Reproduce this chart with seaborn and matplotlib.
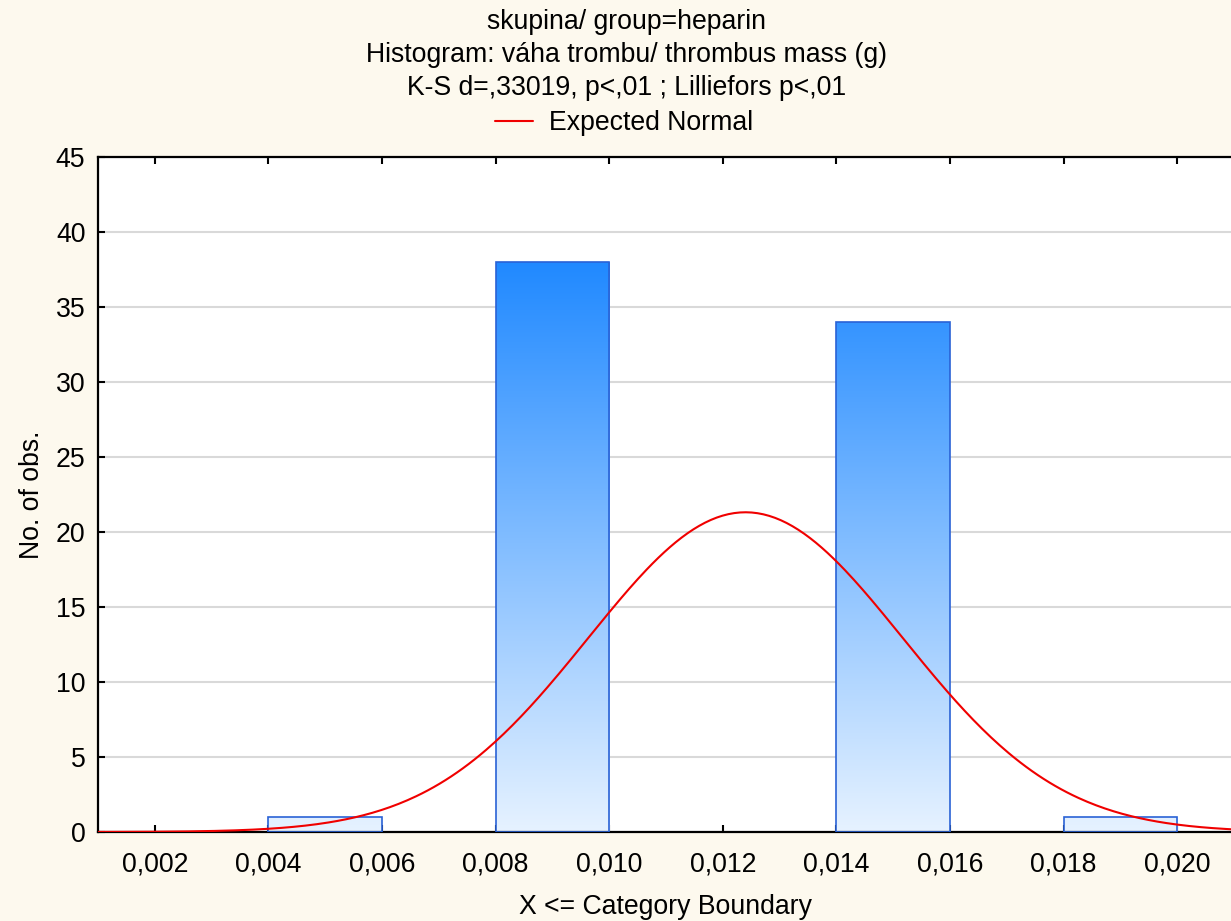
import numpy as np
import pandas as pd
import matplotlib
matplotlib.use("Agg")
import matplotlib.pyplot as plt
from matplotlib.colors import LinearSegmentedColormap
from matplotlib.ticker import FuncFormatter
import seaborn as sns

# ---- data ----
bin_edges = [0.004, 0.006, 0.008, 0.010, 0.012, 0.014, 0.016, 0.018, 0.020]
bin_counts = [1, 0, 38, 0, 0, 34, 0, 1]
normal_mean = 0.0124
normal_sd = 0.00277
n_obs = 74
x_ticks = [0.002, 0.004, 0.006, 0.008, 0.010, 0.012, 0.014, 0.016, 0.018, 0.020]
y_ticks = [0, 5, 10, 15, 20, 25, 30, 35, 40, 45]
title_lines = ["skupina/ group=heparin",
               "Histogram: váha trombu/ thrombus mass (g)",
               "K-S d=,33019, p<,01 ; Lilliefors p<,01"]

sns.set_theme(style="white")
plt.rcParams["font.family"] = ["Liberation Sans", "DejaVu Sans"]
plt.rcParams["text.color"] = "black"
plt.rcParams["axes.labelcolor"] = "black"
plt.rcParams["xtick.color"] = "black"
plt.rcParams["ytick.color"] = "black"
FS = 19.2

bg = "#FDF9EE"
fig = plt.figure(figsize=(12.31, 9.21), dpi=100, facecolor=bg)
ax = fig.add_axes([98 / 1231, 1 - 832 / 921, 1136 / 1231, (832 - 157) / 921])
ax.set_facecolor("white")

centers = [(a + b) / 2 for a, b in zip(bin_edges[:-1], bin_edges[1:])]
df = pd.DataFrame({"x": centers, "w": bin_counts})
sns.histplot(data=df, x="x", weights="w", bins=bin_edges, ax=ax,
             stat="count", facecolor="none", edgecolor="#2A62D6",
             linewidth=1.2, alpha=1, zorder=3)
bars = [p for p in ax.patches]

# gradient fill clipped to bars (in data space)
cmap = LinearSegmentedColormap.from_list("g", ["#E6F2FF", "#1E88FF"])
grad = np.linspace(0, 1, 256).reshape(-1, 1)
for p in bars:
    if p.get_height() <= 0:
        p.set_visible(False)
        continue
    im = ax.imshow(grad, cmap=cmap, origin="lower", aspect="auto",
                   extent=[0.001, 0.021, 0, 38.5], zorder=2, interpolation="bilinear")
    im.set_clip_path(p)

# expected normal curve
xs = np.linspace(0.001, 0.0215, 400)
binw = bin_edges[1] - bin_edges[0]
ys = n_obs * binw / (normal_sd * np.sqrt(2 * np.pi)) * np.exp(-0.5 * ((xs - normal_mean) / normal_sd) ** 2)
sns.lineplot(x=xs, y=ys, ax=ax, color="#F00000", linewidth=1.5, zorder=4,
             label="Expected Normal", legend=False)

ax.set_xlim(0.001, 0.021)
ax.set_ylim(0, 45)
ax.set_xticks(x_ticks)
ax.set_yticks(y_ticks)
ax.xaxis.set_major_formatter(FuncFormatter(lambda v, p: f"{v:.3f}".replace(".", ",")))
ax.yaxis.grid(True, color="#D9D9D9", linewidth=1.5, zorder=0)
ax.xaxis.grid(False)
ax.set_axisbelow(True)
for s in ["left", "bottom", "top", "right"]:
    ax.spines[s].set_color("black")
    ax.spines[s].set_linewidth(1.6)
    ax.spines[s].set_visible(True)
ax.tick_params(axis="x", direction="in", length=5, width=1.5, color="black",
               top=True, bottom=True, labelsize=FS, pad=14, labelcolor="black")
ax.tick_params(axis="y", direction="in", length=5, width=1.5, color="black",
               left=True, labelsize=FS, pad=9, labelcolor="black")
ax.set_xlabel("X <= Category Boundary", fontsize=FS, color="black", labelpad=12)
ax.set_ylabel("No. of obs.", fontsize=FS, color="black", labelpad=8)

for i, t in enumerate(title_lines):
    fig.text(0.509, 1 - (22 + 33 * i) / 921, t, ha="center", va="center",
             fontsize=FS, color="black")

handles, labels = ax.get_legend_handles_labels()
leg = fig.legend(handles, labels, loc="center", bbox_to_anchor=(0.507, 1 - 123 / 921),
                 frameon=False, fontsize=FS, handlelength=1.4, handletextpad=0.6,
                 borderaxespad=0)
for t in leg.get_texts():
    t.set_color("black")

fig.savefig("out.png", dpi=100, facecolor=bg)
